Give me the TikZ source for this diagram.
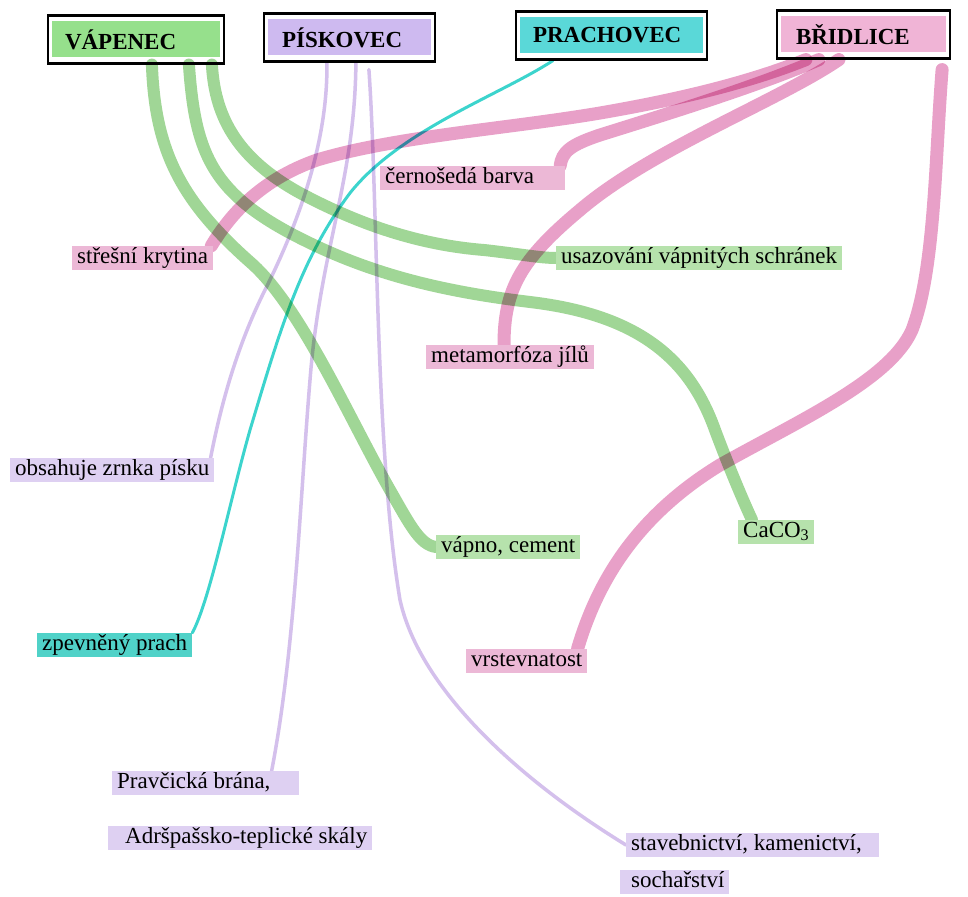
\documentclass[tikz,border=0pt]{standalone}
\usepackage{fontspec}
\setmainfont{Liberation Serif}
\pgfdeclarelayer{background}
\pgfsetlayers{background,main}
\definecolor{gstr}{RGB}{160,214,150}
\definecolor{pstr}{RGB}{232,160,200}
\definecolor{lstr}{RGB}{212,192,236}
\definecolor{cstr}{RGB}{60,212,205}
\definecolor{glab}{RGB}{182,226,172}
\definecolor{plab}{RGB}{236,184,214}
\definecolor{llab}{RGB}{222,208,242}
\definecolor{clab}{RGB}{80,210,200}
\definecolor{gttl}{RGB}{150,224,140}
\definecolor{lttl}{RGB}{206,186,240}
\definecolor{cttl}{RGB}{90,216,216}
\definecolor{pttl}{RGB}{240,180,214}
\tikzset{
  lbl/.style={anchor=west, fill=#1, inner xsep=5pt, inner ysep=2pt,
    text height=15pt, text depth=5pt, font=\fontsize{23}{27}\selectfont},
  ttl/.style={draw=black, line width=2.2pt, minimum height=48pt, inner ysep=0pt,
    align=left, font=\bfseries\fontsize{23}{27}\selectfont,
    path picture={\fill[#1] ([xshift=4pt,yshift=-6pt]path picture bounding box.north west)
      rectangle ([xshift=-4pt,yshift=6pt]path picture bounding box.south east);}},
  gline/.style={draw=gstr, line width=12pt, line cap=round},
  pline/.style={draw=pstr, line width=13pt, line cap=round},
  lline/.style={draw=lstr, line width=3.5pt, line cap=round},
  cline/.style={draw=cstr, line width=3pt, line cap=round}
}
\begin{document}
\begin{tikzpicture}[x=1pt,y=-1pt]
\useasboundingbox (0,0) rectangle (968,896);
% titles
\node[ttl=gttl, inner xsep=17pt, text width=142pt] (vap) at (136,39.5) {VÁPENEC};
\node[ttl=lttl, inner xsep=18pt, text width=135pt] (pis) at (349.5,37.5) {PÍSKOVEC};
\node[ttl=cttl, inner xsep=17pt, text width=157pt] (pra) at (611.5,35.5) {PRACHOVEC};
\node[ttl=pttl, inner xsep=19pt, text width=135pt] (bri) at (863.5,34.5) {BŘIDLICE};
% labels
\node[lbl=plab] (cerno) at (380,178) {černošedá barva\hspace*{26pt}};
\node[lbl=plab] (strecha) at (72,258) {střešní krytina};
\node[lbl=glab] (usaz) at (556,258) {usazování vápnitých schránek};
\node[lbl=plab] (meta) at (426,357) {metamorfóza jílů};
\node[lbl=llab] (obsah) at (10,470) {obsahuje zrnka písku};
\node[lbl=glab] (vapno) at (436,547) {vápno, cement};
\node[lbl=glab] (caco) at (738,532) {CaCO\textsubscript{3}};
\node[lbl=clab] (zpev) at (37,645) {zpevněný prach};
\node[lbl=plab] (vrst) at (466,661) {vrstevnatost};
\node[lbl=llab] (prav) at (112,783) {Pravčická brána,\hspace*{24pt}};
\node[lbl=llab] (adrs) at (108,838) {\hspace*{12pt}Adršpašsko-teplické skály};
\node[lbl=llab] (stav) at (626,845) {stavebnictví, kamenictví,\hspace*{12pt}};
\node[lbl=llab] (soch) at (620,882) {\hspace*{6pt}sochařství};
% connectors
\begin{pgfonlayer}{background}
\fill[white] (0,0) rectangle (968,896);
\begin{scope}[blend mode=multiply]
\draw[gline] ([xshift=105pt]vap.south west) .. controls (155,150) and (180,200) .. (250,262)
  .. controls (300,305) and (350,420) .. (390,490) .. controls (410,525) and (420,545) .. (vapno.west);
\draw[gline] ([xshift=142pt]vap.south west) .. controls (195,150) and (210,190) .. (290,233)
  .. controls (360,270) and (430,290) .. (530,302) .. controls (640,315) and (690,360) .. (715,430)
  .. controls (730,470) and (745,505) .. ([xshift=14pt]caco.north west);
\draw[gline] ([xshift=165pt]vap.south west) .. controls (215,120) and (240,160) .. (300,193)
  .. controls (360,225) and (420,245) .. (484,250) .. controls (520,254) and (540,258) .. (usaz.west);
\draw[pline] ([xshift=30pt]bri.south west) .. controls (760,78) and (700,95) .. (617,110)
  .. controls (520,128) and (400,135) .. (317,160) .. controls (260,180) and (230,215) .. ([xshift=-2pt]strecha.north east);
\draw[pline] ([xshift=43pt]bri.south west) .. controls (760,85) and (680,110) .. (600,135)
  .. controls (570,145) and (562,152) .. ([xshift=-5pt]cerno.north east);
\draw[pline] ([xshift=63pt]bri.south west) .. controls (780,100) and (650,150) .. (580,210)
  .. controls (520,260) and (504,290) .. ([xshift=78pt]meta.north west);
\draw[pline] ([xshift=-9pt,yshift=-10pt]bri.south east) .. controls (935,160) and (935,270) .. (912,330)
  .. controls (890,380) and (800,420) .. (720,465) .. controls (630,520) and (595,590) .. ([xshift=-10pt]vrst.north east);
\draw[lline] ([xshift=64pt]pis.south west) .. controls (328,140) and (300,220) .. (265,290)
  .. controls (235,350) and (220,410) .. ([xshift=-4pt]obsah.north east);
\draw[lline] ([xshift=93pt]pis.south west) .. controls (355,180) and (320,250) .. (310,380)
  .. controls (300,500) and (295,650) .. ([xshift=-28pt]prav.north east);
\draw[lline] ([xshift=106pt,yshift=-7pt]pis.south west) .. controls (378,200) and (375,450) .. (400,600)
  .. controls (420,690) and (520,780) .. (stav.west);
\draw[cline] ([xshift=38pt]pra.south west) .. controls (500,95) and (400,130) .. (350,193)
  .. controls (300,260) and (280,330) .. (250,430) .. controls (230,500) and (210,600) .. (zpev.north east);
\end{scope}
\end{pgfonlayer}
\end{tikzpicture}
\end{document}
